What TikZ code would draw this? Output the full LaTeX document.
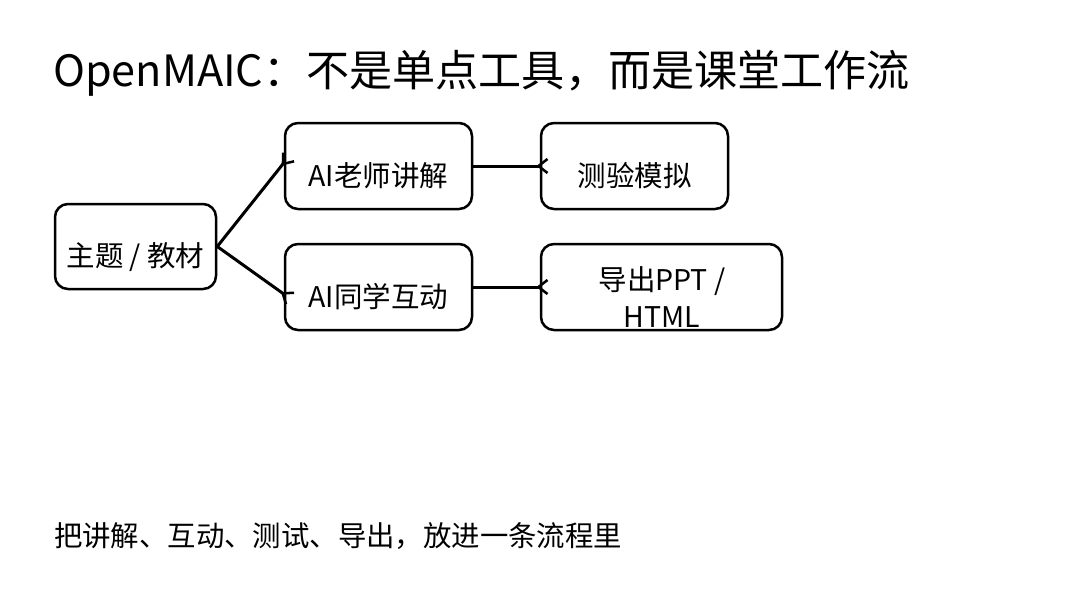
\documentclass[tikz,border=0pt]{standalone}
\usepackage{fontspec}
\setmainfont{Noto Sans CJK SC}
\usetikzlibrary{arrows.meta}
\begin{document}
\begin{tikzpicture}[x=1pt,y=-1pt,
  box/.style={draw=black, line width=2.5pt, rounded corners=13pt, inner sep=0pt},
  lbl/.style={font=\fontsize{28.5}{37}\selectfont, inner sep=0pt, align=center},
  shifted/.style={text height=40pt, text depth=0pt},
  conn/.style={line width=3pt, shorten >=-9pt, -{Straight Barb[reversed, length=9pt, width=14pt, line width=2.5pt]}}
]
\useasboundingbox[fill=white] (0,0) rectangle (1080,608);
\node[anchor=base west, inner sep=0pt, font=\fontsize{43.1}{50}\selectfont] (title) at (53,86) {OpenMAIC：不是单点工具，而是课堂工作流};

\node[box, minimum width=161pt, minimum height=85pt, lbl, shifted] (topic) at (135.5,246.5) {主题 / 教材};
\node[box, minimum width=187pt, minimum height=86pt, lbl, shifted] (teach) at (378.5,166) {AI老师讲解};
\node[box, minimum width=187pt, minimum height=86pt, lbl, shifted] (mate) at (378.5,287) {AI同学互动};
\node[box, minimum width=187pt, minimum height=86pt, lbl, shifted] (quiz) at (634.5,166) {测验模拟};
\node[box, minimum width=241pt, minimum height=86pt] (export) at (661.5,287) {};
\node[lbl] (exporttext) at (662,297) {导出PPT /\\HTML};

\draw[conn] (topic.east) -- ([yshift=3pt]teach.west);
\draw[conn] (topic.east) -- ([yshift=-7pt]mate.west);
\draw[conn] (teach.east) -- (quiz.west);
\draw[conn] (mate.east) -- (export.west);

\node[anchor=base west, inner sep=0pt, font=\fontsize{28.4}{34}\selectfont] (foot) at (54,546) {把讲解、互动、测试、导出，放进一条流程里};
\end{tikzpicture}
\end{document}
